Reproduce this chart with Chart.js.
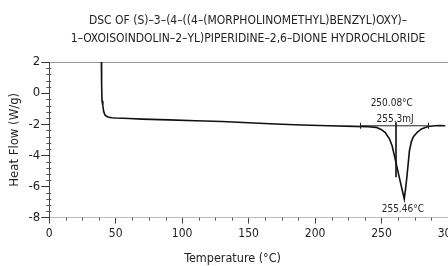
<!DOCTYPE html>
<html><head><meta charset="utf-8">
<script src="https://cdn.jsdelivr.net/npm/chart.js@4/dist/chart.umd.min.js"></script>
<style>
html,body{margin:0;padding:0;background:#fff;overflow:hidden;width:448px;height:266px;}
#wrap{position:relative;width:494px;height:266px;}
</style></head>
<body><div id="wrap"><canvas id="c" width="494" height="266"></canvas></div>
<script>
// ---- data ----
const titleLines = ["DSC OF (S)\u20133\u2013(4\u2013((4\u2013(MORPHOLINOMETHYL)BENZYL)OXY)\u2013",
                    "1\u2013OXOISOINDOLIN\u20132\u2013YL)PIPERIDINE\u20132,6\u2013DIONE HYDROCHLORIDE"];
const xTitle = "Temperature (\u00b0C)";
const yTitle = "Heat Flow (W/g)";
const temperature = [39.2,39.4,39.7,40.3,41,42,44,47,50,60,70,90,110,130,150,170,190,210,230,240,246,250,253,256,258,260,262,264,266,267.1,268,269,270,271,272.5,274,277,280,285,290,294,298];
const heatFlow    = [2.0,0.5,-0.5,-0.8,-1.2,-1.42,-1.53,-1.58,-1.6,-1.63,-1.67,-1.72,-1.78,-1.82,-1.9,-1.98,-2.05,-2.1,-2.14,-2.16,-2.2,-2.35,-2.55,-2.95,-3.4,-4.15,-4.9,-5.66,-6.4,-6.8,-6.2,-5.45,-4.58,-3.7,-3.1,-2.8,-2.5,-2.3,-2.15,-2.1,-2.08,-2.1];
const baseT = [233.8, 285];
const baseY = [-2.1, -2.1];
const markT = [260.9, 260.9];
const markY = [-1.88, -5.4];
const annoText = ["250.08\u00b0C", "255.3mJ", "255.46\u00b0C"];
const annoT    = [257.7, 260.2, 266];
const annoY    = [-0.68, -1.7, -7.5];
const xTicks = [0,50,100,150,200,250,300];
const yTicks = [2,0,-2,-4,-6,-8];

const FONT = "'DejaVu Sans Condensed','DejaVu Sans',sans-serif";
const PAD = "\u00a0".repeat(12);

const minorTicks = {
  id:'minorTicks',
  afterDraw(chart){
    const ctx = chart.ctx, xs = chart.scales.x, ys = chart.scales.y;
    ctx.save(); ctx.strokeStyle='#555'; ctx.lineWidth=1;
    for(let v=0; v<=300; v+=12.5){
      if(v%50===0) continue;
      const px=Math.round(xs.getPixelForValue(v))+0.5;
      ctx.beginPath(); ctx.moveTo(px, ys.bottom); ctx.lineTo(px, ys.bottom+3); ctx.stroke();
    }
    for(let i=0;i<=25;i++){
      const v=2-i*0.4;
      if(Math.abs(v-Math.round(v))<1e-6 && Math.round(v)%2===0) continue;
      const py=Math.round(ys.getPixelForValue(v))+0.5;
      ctx.beginPath(); ctx.moveTo(xs.left-3, py); ctx.lineTo(xs.left+2, py); ctx.stroke();
    }
    ctx.strokeStyle='#222';
    baseT.forEach((t,i)=>{
      const px=Math.round(xs.getPixelForValue(t))+0.5, py=ys.getPixelForValue(baseY[i]);
      ctx.beginPath(); ctx.moveTo(px, py-3); ctx.lineTo(px, py+3); ctx.stroke();
    });
    ctx.fillStyle='#222'; ctx.font="10px "+FONT; ctx.textAlign='center'; ctx.textBaseline='middle';
    annoText.forEach((s,i)=>{ ctx.fillText(s, xs.getPixelForValue(annoT[i]), ys.getPixelForValue(annoY[i])); });
    ctx.restore();
  }
};

new Chart(document.getElementById('c'), {
  type:'line',
  data:{datasets:[
    {data: temperature.map((t,i)=>({x:t,y:heatFlow[i]})), borderColor:'#111', borderWidth:1.6, pointRadius:0, tension:0, fill:false},
    {data: baseT.map((t,i)=>({x:t,y:baseY[i]})), borderColor:'#222', borderWidth:1, pointRadius:0, fill:false},
    {data: markT.map((t,i)=>({x:t,y:markY[i]})), borderColor:'#222', borderWidth:1, pointRadius:0, fill:false}
  ]},
  options:{
    responsive:false, animation:false, devicePixelRatio:1,
    layout:{padding:{left:7,right:46,top:4,bottom:0}},
    plugins:{
      legend:{display:false}, tooltip:{enabled:false},
      title:{display:true, text:titleLines.map(s=>PAD+s), color:'#222', font:{family:FONT,size:12,weight:'normal',lineHeight:1.5}, padding:{top:8,bottom:14}}
    },
    scales:{
      x:{type:'linear', min:0, max:300,
         afterBuildTicks(s){ s.ticks = xTicks.map(v=>({value:v})); },
         grid:{drawOnChartArea:false, tickLength:6, tickColor:'#444'},
         border:{color:'#bbb', width:1},
         ticks:{color:'#222', font:{family:FONT,size:12}, padding:3, maxRotation:0},
         title:{display:true, text:xTitle+"\u00a0".repeat(9), color:'#222', font:{family:FONT,size:12.5}, padding:{top:7,bottom:0}}},
      y:{type:'linear', min:-8, max:2,
         afterBuildTicks(s){ s.ticks = yTicks.map(v=>({value:v})); },
         grid:{drawOnChartArea:true, color:c=> c.tick && c.tick.value===2 ? '#999' : 'rgba(0,0,0,0)', tickLength:8, tickColor:'#333'},
         border:{color:'#444', width:1},
         ticks:{color:'#222', font:{family:FONT,size:13}, padding:1},
         title:{display:true, text:yTitle, color:'#222', font:{family:FONT,size:13}, padding:{top:0,bottom:5}}}
    }
  },
  plugins:[minorTicks]
});
</script></body></html>
